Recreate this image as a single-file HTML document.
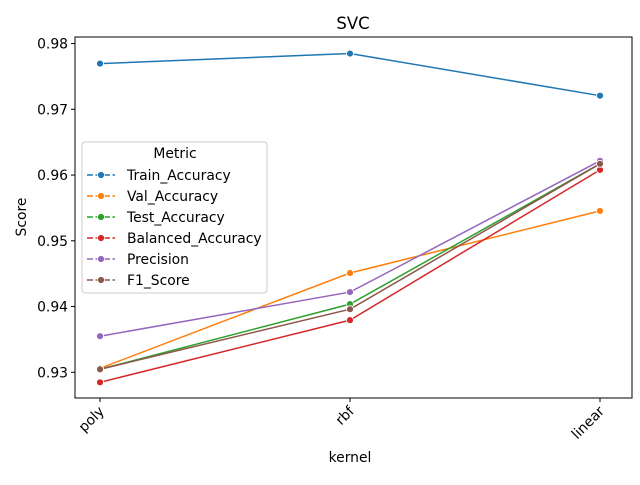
<!DOCTYPE html>
<html><head><meta charset="utf-8"><style>
body{margin:0;background:#fff;font-family:"Liberation Sans","DejaVu Sans",sans-serif;}
svg text{font-family:"DejaVu Sans","Liberation Sans",sans-serif;}
</style></head><body>
<svg id="chart" width="640" height="480" viewBox="0 0 640 480">
<rect width="640" height="480" fill="#fff"/>
<text x="353" y="29" font-size="16.5" text-anchor="middle">SVC</text>
<g id="marks"></g>
<rect x="75" y="37" width="557" height="361" fill="none" stroke="#000" stroke-width="1"/>
<g id="axes"></g>
<text x="350" y="462" font-size="13.9" text-anchor="middle">kernel</text>
<text transform="translate(26,217) rotate(-90)" font-size="13.9" text-anchor="middle">Score</text>
<g>
<rect x="82" y="142" width="185" height="151" rx="3" fill="#fff" fill-opacity="0.8" stroke="#ccc"/>
<text x="175" y="158" font-size="13.9" text-anchor="middle">Metric</text>
<g id="legend-items"></g>
</g>
</svg>
<script>
const categories=["poly","rbf","linear"];
const seriesNames=["Train_Accuracy","Val_Accuracy","Test_Accuracy","Balanced_Accuracy","Precision","F1_Score"];
const trainAcc=[0.97695,0.97848,0.97207];
const valAcc=[0.93061,0.94510,0.95455];
const testAcc=[0.93046,0.94037,0.96171];
const balancedAcc=[0.92848,0.93793,0.96079];
const precision=[0.93549,0.94220,0.96216];
const f1Score=[0.93046,0.93960,0.96171];
const yTicks=[0.93,0.94,0.95,0.96,0.97,0.98];
const colors=["#1f77b4","#ff7f0e","#2ca02c","#d62728","#9467bd","#8c564b"];
const series=[trainAcc,valAcc,testAcc,balancedAcc,precision,f1Score];
const NS="http://www.w3.org/2000/svg";
function xScale(i){return 100+i*250;}
function yScale(v){return 372.3-(v-0.93)*6575;}
function mk(tag,attrs,parent){const e=document.createElementNS(NS,tag);for(const k in attrs)e.setAttribute(k,attrs[k]);parent.appendChild(e);return e;}
const marks=document.getElementById('marks');
series.forEach((s,si)=>{
  const g=mk('g',{},marks);
  
  
  const p=mk('polyline',{points:s.map((v,i)=>xScale(i)+','+yScale(v)).join(' '),fill:'none',stroke:colors[si],'stroke-width':1.5},g);
  
  
  s.forEach((v,i)=>{
    const c=mk('circle',{cx:xScale(i),cy:yScale(v),r:3.5,fill:colors[si],stroke:'#fff','stroke-width':0.8},g);
    
    
  });
});
const axes=document.getElementById('axes');
yTicks.forEach(t=>{
  const y=yScale(t);
  mk('line',{x1:71,x2:75,y1:y,y2:y,stroke:'#000'},axes);
  const tx=mk('text',{x:68,y:y+5,'font-size':13.9,'text-anchor':'end'},axes);
  tx.textContent=t.toFixed(2);
  
  
});
categories.forEach((c,i)=>{
  const x=xScale(i);
  mk('line',{x1:x,x2:x,y1:398,y2:402,stroke:'#000'},axes);
  const tx=mk('text',{x:x+5,y:412,'font-size':13.9,'text-anchor':'end',transform:'rotate(-45 '+(x+5)+' 412)'},axes);
  tx.textContent=c;
  
  
});
const li=document.getElementById('legend-items');
seriesNames.forEach((n,i)=>{
  const y=175+i*21;
  const g=mk('g',{},li);
  
  
  mk('line',{x1:87,x2:115,y1:y,y2:y,stroke:colors[i],'stroke-width':1.5,'stroke-dasharray':'6,2.5'},g);
  mk('circle',{cx:101,cy:y,r:3.5,fill:colors[i],stroke:'#fff','stroke-width':0.8},g);
  const t=mk('text',{x:127,y:y+5,'font-size':13.9},g);
  t.textContent=n;
});
</script>
</body></html>
